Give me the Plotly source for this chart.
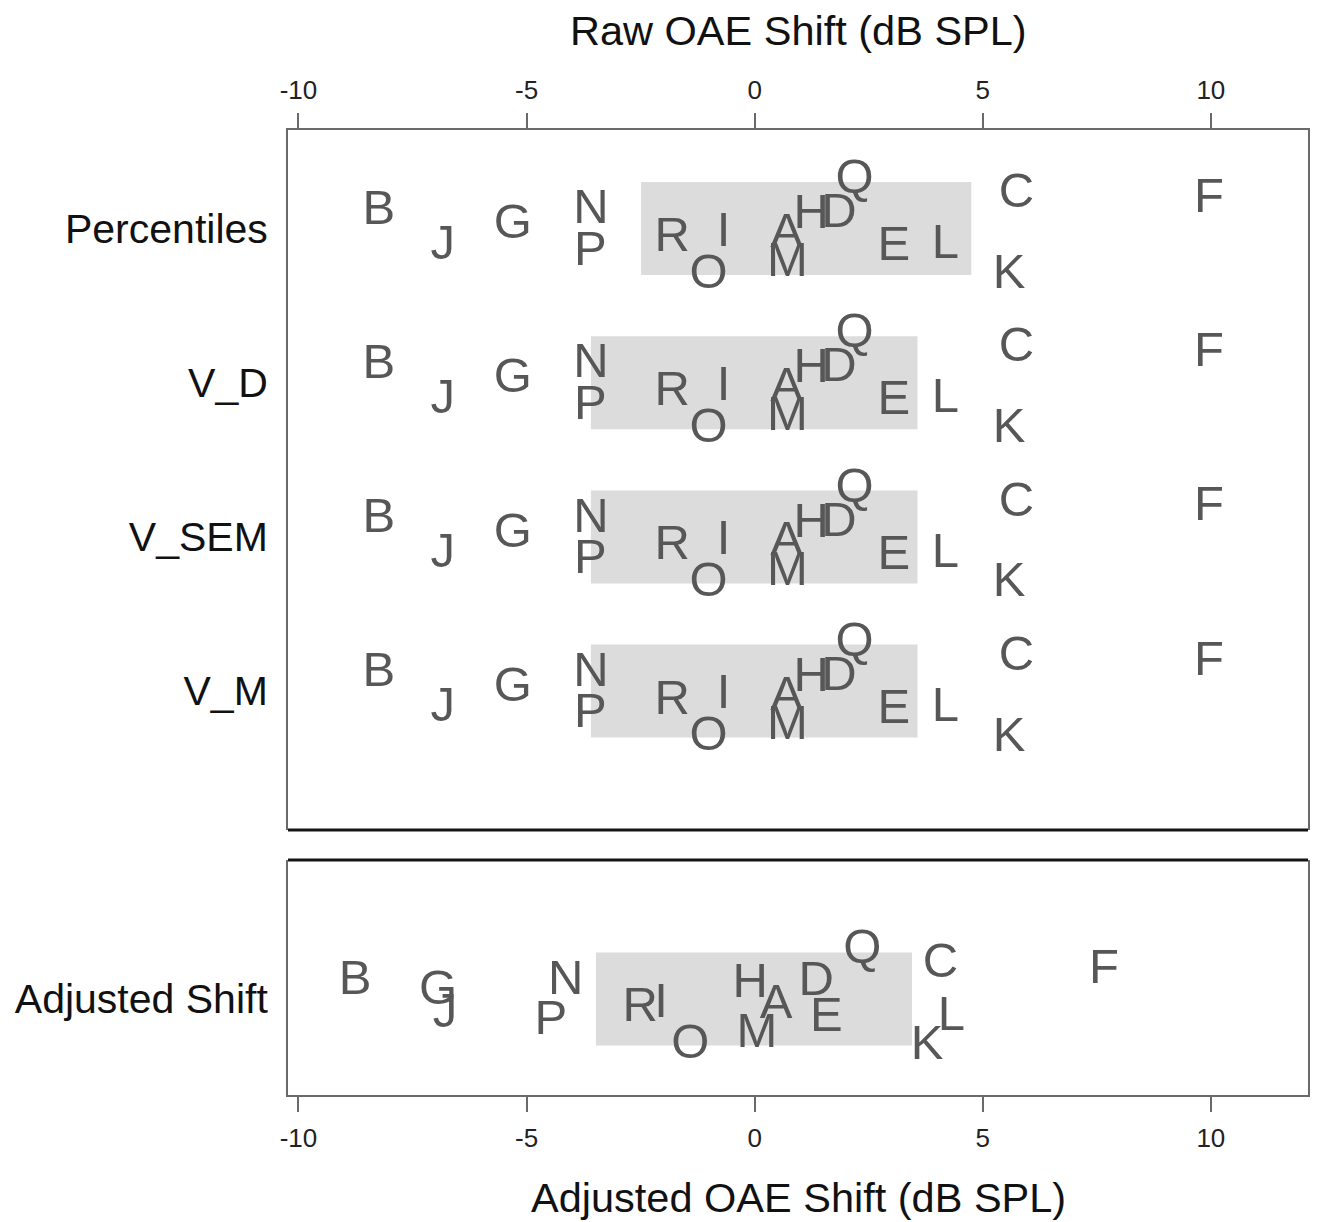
import plotly.graph_objects as go

# ---------------- data ----------------
letters = list("ABCDEFGHIJKLMNOPQR")

raw_rows = ["Percentiles", "V_D", "V_SEM", "V_M"]
raw_shift = [0.70, -8.24, 5.74, 1.85, 3.05, 9.96, -5.30, 1.24, -0.68, -6.84,
             5.58, 4.18, 0.72, -3.59, -1.01, -3.60, 2.19, -1.81]
# vertical jitter of each letter within its row (row units)
raw_jitter = [0.019, -0.133, -0.240, -0.110, 0.104, -0.208, -0.039, -0.104, 0.010, 0.094,
              0.285, 0.091, 0.208, -0.136, 0.282, 0.133, -0.331, 0.045]
raw_box_low = [-2.49, -3.59, -3.59, -3.59]
raw_box_high = [4.75, 3.57, 3.57, 3.57]

adj_row = ["Adjusted Shift"]
adj_shift = [0.47, -8.76, 4.07, 1.35, 1.57, 7.66, -6.94, -0.10, -2.05, -6.79,
             3.78, 4.31, 0.05, -4.14, -1.41, -4.47, 2.36, -2.51]
adj_jitter = [0.019, -0.136, -0.246, -0.130, 0.104, -0.204, -0.071, -0.112, 0.018, 0.078,
              0.285, 0.097, 0.208, -0.136, 0.279, 0.123, -0.337, 0.042]
adj_box_low = [-3.48]
adj_box_high = [3.45]

x_ticks = [-10, -5, 0, 5, 10]

# ---------------- style ----------------
FONT = "Liberation Sans, Arial, sans-serif"
LETTER_COLOR = "#575757"
BOX_COLOR = "#dcdcdc"
FRAME = "#6a6a6a"
LETTER_SIZE = 49
BOX_HEIGHT = 0.603
TEXT_NUDGE = 0.022   # small downward nudge so the glyphs sit centred on their value
XRANGE = [-10.23, 12.13]

fig = go.Figure()

# boxes (horizontal bars from low to high)
fig.add_trace(go.Bar(
    y=list(range(len(raw_rows))),
    x=[h - l for l, h in zip(raw_box_low, raw_box_high)],
    base=raw_box_low, orientation="h", width=BOX_HEIGHT,
    marker=dict(color=BOX_COLOR, line=dict(width=0)),
    hoverinfo="skip", showlegend=False, xaxis="x", yaxis="y"))
fig.add_trace(go.Bar(
    y=[0],
    x=[h - l for l, h in zip(adj_box_low, adj_box_high)],
    base=adj_box_low, orientation="h", width=BOX_HEIGHT,
    marker=dict(color=BOX_COLOR, line=dict(width=0)),
    hoverinfo="skip", showlegend=False, xaxis="x2", yaxis="y2"))

# letters for the raw rows
for i, row in enumerate(raw_rows):
    fig.add_trace(go.Scatter(
        x=raw_shift, y=[i + j + TEXT_NUDGE for j in raw_jitter], text=letters,
        mode="text", textposition="middle center",
        textfont=dict(family=FONT, size=LETTER_SIZE, color=LETTER_COLOR),
        hoverinfo="skip", showlegend=False, xaxis="x", yaxis="y"))

# letters for the adjusted row
fig.add_trace(go.Scatter(
    x=adj_shift, y=[j + TEXT_NUDGE for j in adj_jitter], text=letters,
    mode="text", textposition="middle center",
    textfont=dict(family=FONT, size=LETTER_SIZE, color=LETTER_COLOR),
    hoverinfo="skip", showlegend=False, xaxis="x2", yaxis="y2"))

axis_common = dict(range=XRANGE, tickvals=x_ticks, ticktext=[str(t) for t in x_ticks],
                   ticks="outside", ticklen=15, tickwidth=2, tickcolor=FRAME,
                   showline=True, linecolor=FRAME, linewidth=2,
                   showgrid=False, zeroline=False, ticklabelstandoff=4,
                   tickfont=dict(family=FONT, size=26, color="#222222"))
yaxis_common = dict(showline=True, mirror=True, linecolor=FRAME, linewidth=2,
                    showgrid=False, zeroline=False, ticks="",
                    ticklabelstandoff=10,
                    tickfont=dict(family=FONT, size=41, color="#111111"))

fig.update_layout(
    width=1303, height=1214,
    paper_bgcolor="white", plot_bgcolor="white",
    margin=dict(l=280, r=1, t=122, b=127),
    barmode="overlay",
    xaxis=dict(domain=[0, 1], anchor="y", side="top", **axis_common),
    yaxis=dict(domain=[0.2746, 1], anchor="x", range=[3.901, -0.639],
               tickvals=list(range(len(raw_rows))), ticktext=raw_rows, **yaxis_common),
    xaxis2=dict(domain=[0, 1], anchor="y2", side="bottom", **axis_common),
    yaxis2=dict(domain=[0, 0.2435], anchor="x2", range=[0.623, -0.901],
                tickvals=[0], ticktext=adj_row, **yaxis_common),
    shapes=[
        dict(type="line", xref="x domain", yref="y domain", x0=0, x1=1, y0=0, y1=0,
             line=dict(color="#151515", width=3), layer="above"),
        dict(type="line", xref="x2 domain", yref="y2 domain", x0=0, x1=1, y0=1, y1=1,
             line=dict(color="#151515", width=3), layer="above"),
    ],
    annotations=[
        dict(text="Raw OAE Shift (dB SPL)", xref="paper", yref="paper",
             x=0.5, y=1.1036, xanchor="center", yanchor="middle", showarrow=False,
             font=dict(family=FONT, size=41.5, color="#111111")),
        dict(text="Adjusted OAE Shift (dB SPL)", xref="paper", yref="paper",
             x=0.5, y=-0.1057, xanchor="center", yanchor="middle", showarrow=False,
             font=dict(family=FONT, size=41.5, color="#111111")),
    ],
)

fig.write_html("out.html")
